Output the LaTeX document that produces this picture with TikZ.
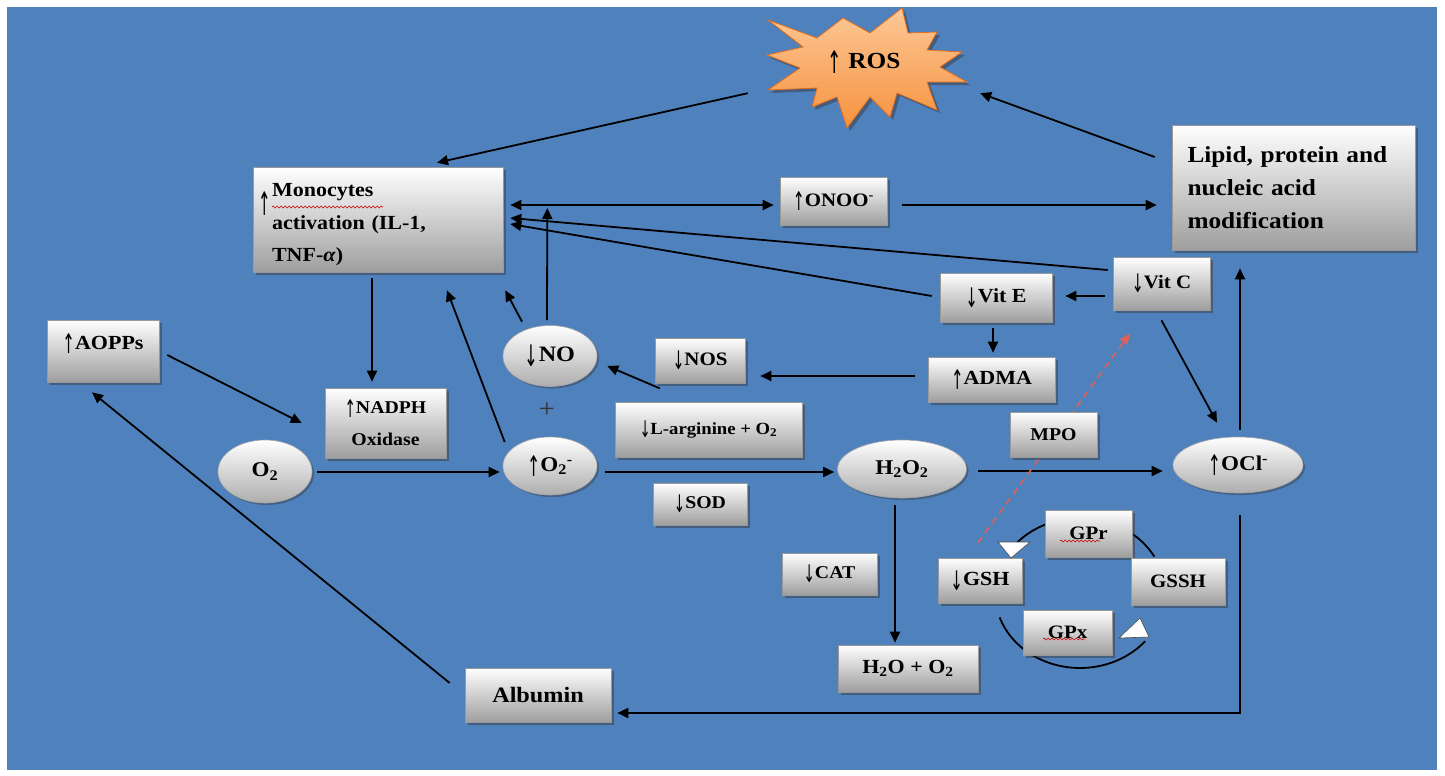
\documentclass[tikz,border=0pt]{standalone}
\usepackage{fontspec}
\setmainfont{Liberation Serif}[FakeStretch=1.1]
\newfontfamily\arrfont{DejaVu Sans}
\usetikzlibrary{arrows.meta,shapes.geometric,shadows,decorations.pathmorphing}
\definecolor{bgblue}{RGB}{79,129,189}
\definecolor{starA}{RGB}{252,200,150}
\definecolor{starB}{RGB}{246,146,62}
\definecolor{starE}{RGB}{226,110,30}
\definecolor{dashred}{RGB}{222,98,88}
\newcommand\UA{\raisebox{-0.22em}{\scalebox{0.75}[1.35]{\arrfont\mdseries ↑}}}
\newcommand\DA{\raisebox{-0.22em}{\scalebox{0.75}[1.35]{\arrfont\mdseries ↓}}}
\newcommand\fsz[2]{\fontsize{#1pt}{#2pt}\selectfont\bfseries}
\pgfdeclarelayer{bglayer}
\pgfdeclarelayer{lines}
\pgfsetlayers{bglayer,lines,main}
\tikzset{
  bx/.style={rectangle, draw=black!40, line width=0.6pt, top color=white, bottom color=black!38,
    inner sep=2pt, align=center,
    drop shadow={shadow xshift=2.5pt, shadow yshift=-2.5pt, opacity=0.45, fill=black!80}},
  ell/.style={ellipse, draw=black!35, line width=0.6pt, top color=white, bottom color=black!32,
    inner sep=1pt, align=center,
    drop shadow={shadow xshift=2pt, shadow yshift=-2pt, opacity=0.4, fill=black!80}},
  arr/.style={draw=black, line width=1.8pt, -{Triangle[length=11pt,width=10pt]}},
  darr/.style={draw=black, line width=1.8pt, {Triangle[length=11pt,width=10pt]}-{Triangle[length=11pt,width=10pt]}},
  redarr/.style={draw=dashred, line width=1.6pt, dash pattern=on 7pt off 5pt, -{Triangle[length=11pt,width=9pt]}},
  cyc/.style={draw=black, line width=1.8pt},
  tri/.style={fill=white, draw=black!70, line width=0.6pt},
  squig/.style={draw=red!80!black, line width=0.6pt, decorate, decoration={snake, amplitude=0.9pt, segment length=4pt}}
}
\begin{document}
\begin{tikzpicture}[x=1pt,y=-1pt]
\useasboundingbox (0,0) rectangle (1445,776);
\begin{pgfonlayer}{bglayer}
\fill[white] (0,0) rectangle (1445,776);
\fill[bgblue] (7,7) rectangle (1437,770);
\end{pgfonlayer}

% ROS star
\path[draw=starE, line width=0.8pt, top color=starA, bottom color=starB,
  drop shadow={shadow xshift=3pt, shadow yshift=-3pt, opacity=0.45, fill=black!80}]
  (768,20) -- (817,38) -- (843,18) -- (870,33) -- (902,8) -- (908,33) -- (937,32) -- (927,50)
  -- (962,52) -- (940,67) -- (967,82) -- (927,82) -- (937,110) -- (897,93) -- (890,117)
  -- (870,97) -- (847,128) -- (837,97) -- (812,107) -- (817,88) -- (768,90) -- (800,68)
  -- (767,55) -- (803,47) -- cycle;
\node[minimum width=232pt, minimum height=62pt, inner sep=0pt, font=\fsz{23}{26}] (ros) at (864,62) {\UA\ ROS};

% boxes
\node[bx, minimum width=250pt, minimum height=105pt, text width=212pt, align=left, font=\fsz{20}{32}] (mono) at (378,219.5)
  {\rule{0pt}{24pt}\llap{\raisebox{-13pt}{\scalebox{1}[1.2]{\UA}}\hspace{1pt}}Monocytes\\activation (IL-1,\\TNF-\textit{α})};
\node[bx, minimum width=107pt, minimum height=48pt, font=\fsz{19}{22}] (onoo) at (833.5,201) {\UA ONOO\textsuperscript{-}};
\node[bx, minimum width=243pt, minimum height=125pt, text width=212pt, align=left, font=\fsz{23}{33}] (lipid) at (1293.5,187.5)
  {Lipid, protein and\\nucleic acid\\modification};
\node[bx, minimum width=112pt, minimum height=62pt, text height=14pt, text depth=18pt, font=\fsz{20}{24}] (aopps) at (103,351) {\UA AOPPs};
\node[bx, minimum width=121pt, minimum height=70pt, font=\fsz{18}{32}] (nadph) at (385.5,423) {\UA NADPH\\Oxidase};
\node[ell, minimum width=94pt, minimum height=63pt, font=\fsz{21}{24}] (o2) at (265,471.5) {O\textsubscript{2}};
\node[ell, minimum width=94pt, minimum height=61pt, font=\fsz{22}{24}] (no) at (550,356) {\DA NO};
\node[inner sep=0pt, text=black!80, font=\fontsize{26pt}{26pt}\selectfont] (plus) at (547,410) {+};
\node[ell, minimum width=94pt, minimum height=58pt, font=\fsz{21}{24}] (o2m) at (550,466) {\UA O\textsubscript{2}\textsuperscript{-}};
\node[bx, minimum width=90pt, minimum height=45pt, font=\fsz{19}{22}] (nos) at (700,360.5) {\DA NOS};
\node[bx, minimum width=187pt, minimum height=55pt, font=\fsz{17}{20}] (larg) at (708.5,429.5) {\DA L-arginine + O\textsubscript{2}};
\node[bx, minimum width=94pt, minimum height=42pt, font=\fsz{18}{20}] (sod) at (700,504) {\DA SOD};
\node[bx, minimum width=112pt, minimum height=49pt, font=\fsz{20}{22}] (vite) at (996,297.5) {\DA Vit E};
\node[bx, minimum width=97pt, minimum height=53pt, font=\fsz{19}{22}] (vitc) at (1161.5,283.5) {\DA Vit C};
\node[bx, minimum width=127pt, minimum height=45pt, font=\fsz{20}{22}] (adma) at (991.5,379.5) {\UA ADMA};
\node[bx, minimum width=87pt, minimum height=45pt, font=\fsz{18}{22}] (mpo) at (1053.5,434.5) {MPO};
\node[ell, minimum width=129pt, minimum height=58pt, font=\fsz{21}{24}] (h2o2) at (902,469) {H\textsubscript{2}O\textsubscript{2}};
\node[ell, minimum width=130pt, minimum height=56pt, font=\fsz{21}{24}] (ocl) at (1238,465) {\UA OCl\textsuperscript{-}};
\node[bx, minimum width=95pt, minimum height=42pt, font=\fsz{18}{22}] (cat) at (829.5,574) {\DA CAT};
\node[bx, minimum width=140pt, minimum height=47pt, font=\fsz{20}{22}] (h2o) at (908,668.5) {H\textsubscript{2}O + O\textsubscript{2}};
\node[bx, minimum width=87pt, minimum height=47pt, font=\fsz{19}{22}] (gpr) at (1088.5,533.5) {GPr};
\node[bx, minimum width=84pt, minimum height=45pt, font=\fsz{20}{22}] (gsh) at (980,580.5) {\DA GSH};
\node[bx, minimum width=94pt, minimum height=47pt, font=\fsz{19}{22}] (gssh) at (1178,581.5) {GSSH};
\node[bx, minimum width=89pt, minimum height=45pt, font=\fsz{19}{22}] (gpx) at (1067.5,632.5) {GPx};
\node[bx, minimum width=146pt, minimum height=54pt, font=\fsz{22}{24}] (albumin) at (538,695) {Albumin};

% spell-check squiggles
\draw[squig] (272,207) -- (383,207);
\draw[squig] (1060,541) -- (1100,541);
\draw[squig] (1043,639) -- (1085,639);

% connectors
\begin{pgfonlayer}{lines}
\draw[arr] (ros.south west) -- ([xshift=59pt,yshift=4pt]mono.north);
\draw[arr] ([xshift=-17pt,yshift=30.5pt]lipid.west) -- (ros.south east);
\draw[darr] ([xshift=7pt,yshift=14.5pt]mono.east) -- ([xshift=-6pt,yshift=-4pt]onoo.west);
\draw[arr] ([xshift=15pt,yshift=-4pt]onoo.east) -- ([xshift=-15pt,yshift=-17.5pt]lipid.west);
\draw[arr] ([xshift=-5pt,yshift=13.5pt]vitc.west) -- ([xshift=7pt,yshift=1.5pt]mono.east);
\draw[arr] ([xshift=-8pt,yshift=1.5pt]vite.west) -- ([xshift=7pt,yshift=-4.5pt]mono.east);
\draw[arr] ([xshift=-3pt,yshift=5pt]no.north) -- ([xshift=44pt,yshift=11.5pt]mono.east);
\draw[arr] ([xshift=-28pt,yshift=3.5pt]no.north) -- ([xshift=2pt,yshift=-18pt]mono.south east);
\draw[arr] ([xshift=2pt,yshift=24pt]o2m.west) -- ([xshift=69pt,yshift=-18pt]mono.south);
\draw[arr] ([xshift=-6pt,yshift=-6pt]mono.south) -- ([xshift=-13.5pt,yshift=6pt]nadph.north);
\draw[arr] ([xshift=8pt,yshift=-4pt]aopps.east) -- ([xshift=-23pt]nadph.west);
\draw[arr] ([xshift=-15pt,yshift=12pt]albumin.west) -- ([xshift=-11pt,yshift=-10pt]aopps.south);
\draw[arr] ([xshift=5pt,yshift=-0.5pt]o2.east) -- ([xshift=-3pt,yshift=-6pt]o2m.west);
\draw[arr] ([xshift=8pt,yshift=-6pt]o2m.east) -- ([xshift=-3pt,yshift=-3pt]h2o2.west);
\draw[arr] ([xshift=11.5pt,yshift=-2pt]h2o2.east) -- ([xshift=-10pt,yshift=-6pt]ocl.west);
\draw[arr] ([xshift=-7pt,yshift=-7pt]h2o2.south) -- ([xshift=-13pt,yshift=2pt]h2o.north);
\draw[arr] ([xshift=5pt,yshift=-5pt]nos.south west) -- ([xshift=10pt,yshift=-10pt]no.east);
\draw[arr] ([xshift=-13pt,yshift=3.5pt]adma.west) -- ([xshift=15pt,yshift=-15.5pt]nos.east);
\draw[arr] ([xshift=-3pt,yshift=-6pt]vite.south) -- ([xshift=1.5pt,yshift=4pt]adma.north);
\draw[arr] ([xshift=-8pt,yshift=-12.5pt]vitc.west) -- ([xshift=13pt,yshift=1.5pt]vite.east);
\draw[arr] ([yshift=-10pt]vitc.south) -- ([xshift=-21pt,yshift=14pt]ocl.north);
\draw[arr] ([xshift=2pt,yshift=7pt]ocl.north) -- ([xshift=-53.5pt,yshift=-18pt]lipid.south);
\draw[arr] ([xshift=2pt,yshift=-22pt]ocl.south) |- ([xshift=6pt,yshift=-18pt]albumin.east);
\draw[redarr] ([xshift=-2pt,yshift=15pt]gsh.north) -- ([xshift=-31.5pt,yshift=-23pt]vitc.south);
% GSH cycle
\draw[cyc] plot[domain=-141:-29, samples=50, smooth] ({1080+85*cos(\x)},{593+75*sin(\x)});
\draw[cyc] plot[domain=40:161, samples=50, smooth] ({1080+85*cos(\x)},{593+75*sin(\x)});
\end{pgfonlayer}
\filldraw[tri] (998,542) -- (1030,542) -- (1011,558) -- cycle;
\filldraw[tri] (1119,638) -- (1149,637) -- (1140,618) -- cycle;
\end{tikzpicture}
\end{document}
